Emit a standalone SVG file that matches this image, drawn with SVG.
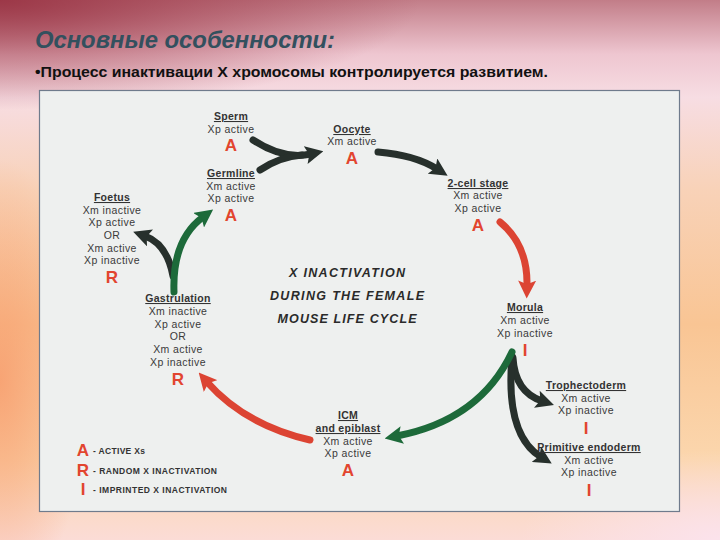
<svg xmlns="http://www.w3.org/2000/svg" width="720" height="540" viewBox="0 0 720 540">
<defs>
<linearGradient id="bg" x1="0" y1="0" x2="0" y2="1">
<stop offset="0" stop-color="#c27d88"/>
<stop offset="0.1" stop-color="#eec6d0"/>
<stop offset="0.18" stop-color="#f7dde3"/>
<stop offset="0.35" stop-color="#f8d2b8"/>
<stop offset="0.6" stop-color="#f9c594"/>
<stop offset="0.85" stop-color="#fbd6ad"/>
<stop offset="1" stop-color="#fbdcd6"/>
</linearGradient>
<radialGradient id="tl" cx="0" cy="0" r="1" gradientUnits="userSpaceOnUse" gradientTransform="translate(0,0) scale(420,110)">
<stop offset="0" stop-color="#9a3444" stop-opacity="0.95"/>
<stop offset="1" stop-color="#9a3444" stop-opacity="0"/>
</radialGradient>
<radialGradient id="lo" cx="0" cy="0" r="1" gradientUnits="userSpaceOnUse" gradientTransform="translate(0,380) scale(90,220)">
<stop offset="0" stop-color="#f79a6a" stop-opacity="0.8"/>
<stop offset="1" stop-color="#f79a6a" stop-opacity="0"/>
</radialGradient>
<radialGradient id="br" cx="0" cy="0" r="1" gradientUnits="userSpaceOnUse" gradientTransform="translate(720,540) scale(200,90)">
<stop offset="0" stop-color="#fbe3ee" stop-opacity="0.9"/>
<stop offset="1" stop-color="#fbe3ee" stop-opacity="0"/>
</radialGradient>
<marker id="hd" viewBox="0 0 10 10" refX="3" refY="5" markerWidth="18" markerHeight="18" markerUnits="userSpaceOnUse" orient="auto"><path d="M0,0 L10,5 L0,10 L2,5 z" fill="#27302c"/></marker>
<marker id="hg" viewBox="0 0 10 10" refX="3" refY="5" markerWidth="18" markerHeight="18" markerUnits="userSpaceOnUse" orient="auto"><path d="M0,0 L10,5 L0,10 L2,5 z" fill="#1d6a3a"/></marker>
<marker id="hr" viewBox="0 0 10 10" refX="3" refY="5" markerWidth="18" markerHeight="18" markerUnits="userSpaceOnUse" orient="auto"><path d="M0,0 L10,5 L0,10 L2,5 z" fill="#dc4433"/></marker>
</defs>
<style>
.t{font-family:"Liberation Sans","DejaVu Sans",sans-serif;font-size:10.5px;fill:#3a3a3a;text-anchor:middle;letter-spacing:0.4px}
.h{font-family:"Liberation Sans","DejaVu Sans",sans-serif;font-size:10.5px;font-weight:bold;fill:#333;text-anchor:middle;text-decoration:underline;letter-spacing:0.3px}
.m{font-family:"Liberation Sans","DejaVu Sans",sans-serif;font-size:17px;font-weight:bold;fill:#e2452f;text-anchor:middle}
.c{font-family:"Liberation Sans","DejaVu Sans",sans-serif;font-size:12.5px;font-weight:bold;font-style:italic;fill:#2a2a2a;text-anchor:middle}
.l{font-family:"Liberation Sans","DejaVu Sans",sans-serif;font-size:8.5px;font-weight:bold;fill:#333}
.d{fill:none;stroke:#27302c;stroke-width:7;stroke-linecap:round}
.g{fill:none;stroke:#1d6a3a;stroke-width:7;stroke-linecap:round}
.r{fill:none;stroke:#dc4433;stroke-width:7;stroke-linecap:round}
</style>
<rect width="720" height="540" fill="url(#bg)"/>
<rect width="720" height="540" fill="url(#tl)"/>
<rect width="720" height="540" fill="url(#lo)"/>
<rect width="720" height="540" fill="url(#br)"/>
<text x="35" y="48" font-family="'Liberation Sans','DejaVu Sans',sans-serif" font-size="23" font-weight="bold" font-style="italic" fill="#33505e" textLength="300" lengthAdjust="spacingAndGlyphs">Основные особенности:</text>
<text x="35" y="77" font-family="'Liberation Sans','DejaVu Sans',sans-serif" font-size="14.5" font-weight="bold" fill="#111" textLength="513" lengthAdjust="spacingAndGlyphs">•Процесс инактивации X хромосомы контролируется развитием.</text>
<rect x="39.5" y="90.5" width="640" height="421" fill="#eef0ef" stroke="#6f7b8c" stroke-width="1.2"/>

<g id="connectors">
<path class="d" d="M253,140 Q283,160 311,154" marker-end="url(#hd)"/>
<path class="d" d="M260,170 C275,160 288,156 302,155"/>
<path class="d" d="M378,152 Q415,155 437,169" marker-end="url(#hd)"/>
<path class="r" d="M500,222 Q528,245 527,286" marker-end="url(#hr)"/>
<path class="d" d="M513,358 Q515,392 542,401" marker-end="url(#hd)"/>
<path class="d" d="M512,356 Q505,435 541,457" marker-end="url(#hd)"/>
<path class="g" d="M512,352 Q480,420 397,436" marker-end="url(#hg)"/>
<path class="r" d="M310,440 Q245,425 207,382" marker-end="url(#hr)"/>
<path class="d" d="M173,276 Q167,244 145,236" marker-end="url(#hd)"/>
<path class="g" d="M174,292 Q172,240 203,217" marker-end="url(#hg)"/>
</g>

<g id="sperm"><text class="h" x="231" y="120">Sperm</text><text class="t" x="231" y="133">Xp active</text><text class="m" x="231" y="151">A</text></g>
<g id="oocyte"><text class="h" x="352" y="133">Oocyte</text><text class="t" x="352" y="145">Xm active</text><text class="m" x="352" y="164">A</text></g>
<g id="germline"><text class="h" x="231" y="177">Germline</text><text class="t" x="231" y="190">Xm active</text><text class="t" x="231" y="202">Xp active</text><text class="m" x="231" y="221">A</text></g>
<g id="twocell"><text class="h" x="478" y="187">2-cell stage</text><text class="t" x="478" y="199">Xm active</text><text class="t" x="478" y="212">Xp active</text><text class="m" x="478" y="231">A</text></g>
<g id="foetus"><text class="h" x="112" y="201">Foetus</text><text class="t" x="112" y="214">Xm inactive</text><text class="t" x="112" y="226">Xp active</text><text class="t" x="112" y="239">OR</text><text class="t" x="112" y="252">Xm active</text><text class="t" x="112" y="264">Xp inactive</text><text class="m" x="112" y="283">R</text></g>
<g id="gastrulation"><text class="h" x="178" y="302">Gastrulation</text><text class="t" x="178" y="315">Xm inactive</text><text class="t" x="178" y="328">Xp active</text><text class="t" x="178" y="340">OR</text><text class="t" x="178" y="353">Xm active</text><text class="t" x="178" y="366">Xp inactive</text><text class="m" x="178" y="385">R</text></g>
<g id="morula"><text class="h" x="525" y="311">Morula</text><text class="t" x="525" y="324">Xm active</text><text class="t" x="525" y="337">Xp inactive</text><text class="m" x="525" y="356">I</text></g>
<g id="trophectoderm"><text class="h" x="586" y="389">Trophectoderm</text><text class="t" x="586" y="402">Xm active</text><text class="t" x="586" y="414">Xp inactive</text><text class="m" x="586" y="434">I</text></g>
<g id="primendo"><text class="h" x="589" y="451">Primitive endoderm</text><text class="t" x="589" y="464">Xm active</text><text class="t" x="589" y="476">Xp inactive</text><text class="m" x="589" y="496">I</text></g>
<g id="icm"><text class="h" x="348" y="419">ICM</text><text class="h" x="348" y="432">and epiblast</text><text class="t" x="348" y="445">Xm active</text><text class="t" x="348" y="457">Xp active</text><text class="m" x="348" y="476">A</text></g>

<g id="title-center">
<text class="c" x="347" y="277" textLength="116" lengthAdjust="spacing">X INACTIVATION</text>
<text class="c" x="347" y="300" textLength="154" lengthAdjust="spacing">DURING THE FEMALE</text>
<text class="c" x="347" y="323" textLength="139" lengthAdjust="spacing">MOUSE LIFE CYCLE</text>
</g>

<g id="legend">
<text class="m" x="83" y="456">A</text><text class="l" x="93" y="454" textLength="52" lengthAdjust="spacing">- ACTIVE Xs</text>
<text class="m" x="83" y="476">R</text><text class="l" x="93" y="474" textLength="124" lengthAdjust="spacing">- RANDOM X INACTIVATION</text>
<text class="m" x="83" y="495">I</text><text class="l" x="93" y="493" textLength="134" lengthAdjust="spacing">- IMPRINTED X INACTIVATION</text>
</g>
</svg>
